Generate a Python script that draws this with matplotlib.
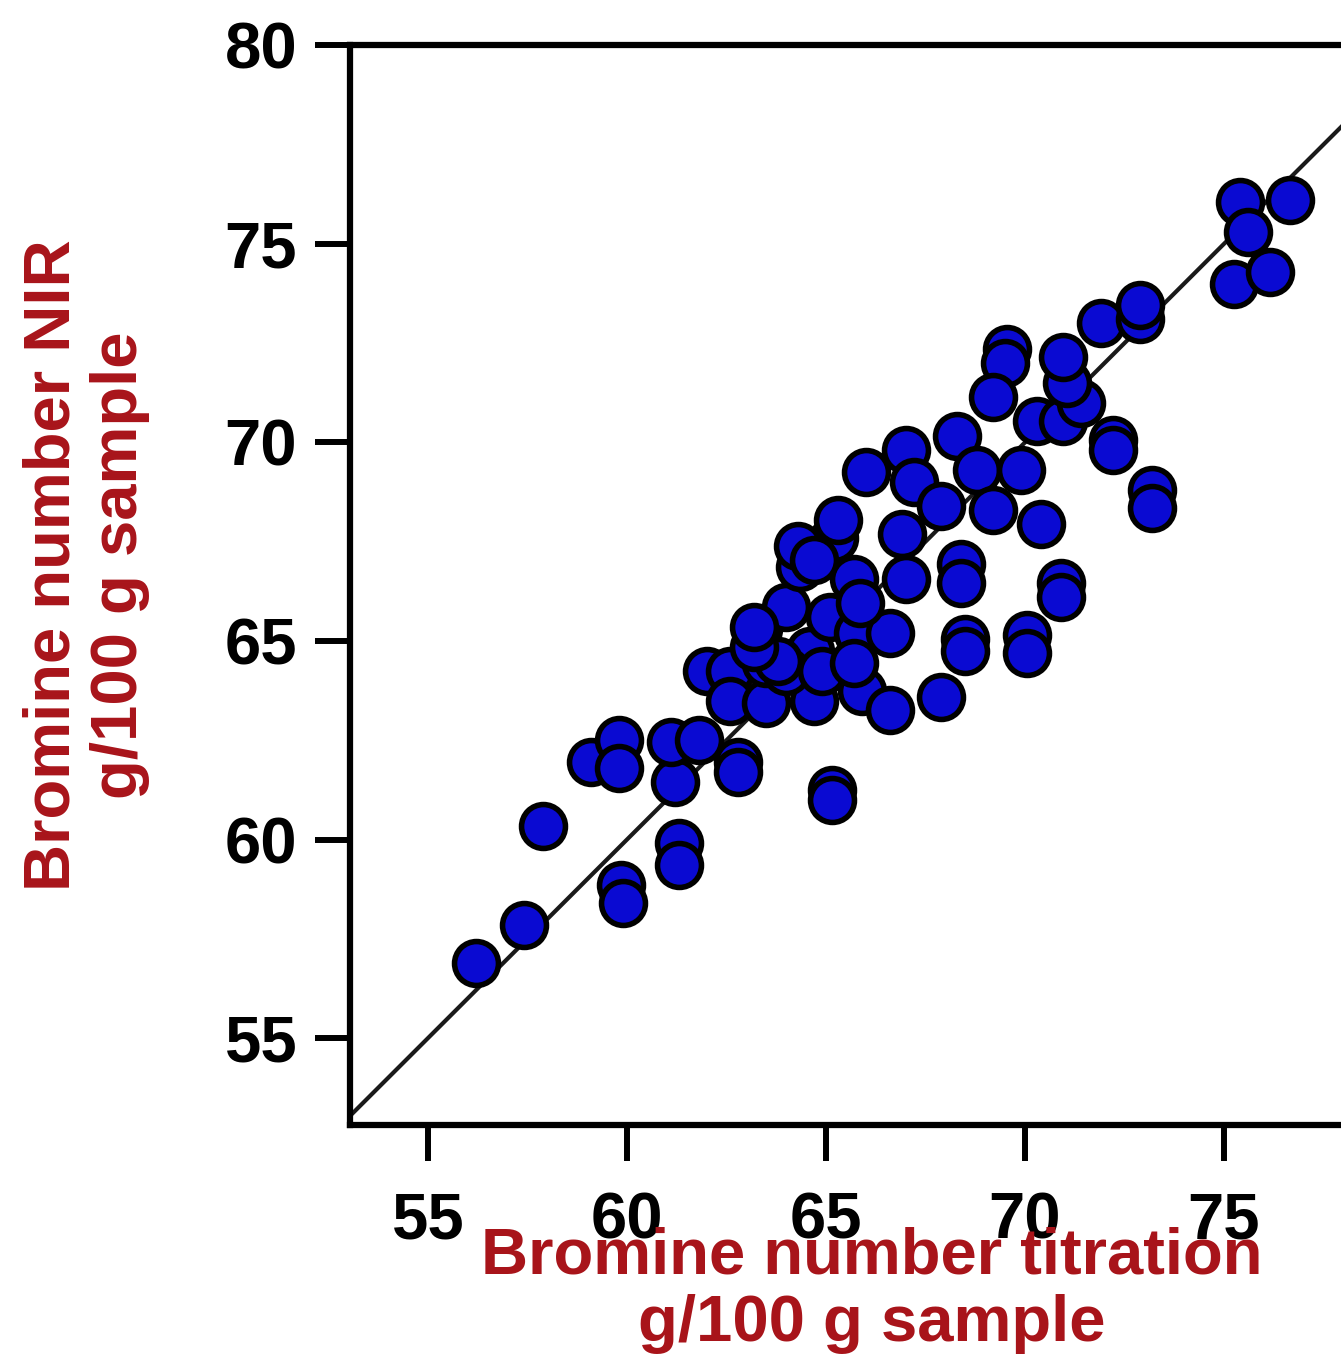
import matplotlib
matplotlib.use("Agg")
import matplotlib.pyplot as plt

# -----------------------------
# Data
# -----------------------------
titration = [
    56.2, 57.4, 57.9, 59.85, 59.9, 61.3, 61.3, 59.1, 59.8, 59.8,
    61.2, 61.1, 61.8, 62.8, 62.8, 65.15, 65.15, 62.0, 62.6, 62.6,
    63.5, 63.5, 63.3, 64.0, 64.6, 64.7, 65.1, 65.8, 66.6, 65.9,
    66.6, 65.2, 65.3, 64.35, 64.3, 65.7, 64.7, 67.9, 68.5, 68.5,
    70.05, 70.05, 68.4, 68.4, 70.9, 70.9, 67.0, 66.9, 66.0, 67.0,
    67.2, 68.3, 68.8, 69.9, 67.9, 69.2, 70.4, 70.3, 70.95, 71.4,
    71.05, 70.95, 69.55, 69.5, 69.2, 72.2, 72.2, 73.2, 73.2, 71.9,
    72.9, 72.9, 75.4, 76.65, 75.6, 75.25, 76.15, 64.0,
    65.85, 63.8, 64.9, 65.7, 63.2, 63.2,
]
nir = [
    56.9, 57.85, 60.35, 58.85, 58.4, 59.9, 59.35, 61.95, 62.5, 61.8,
    61.45, 62.45, 62.5, 61.95, 61.7, 61.25, 61.0, 64.25, 64.25, 63.5,
    63.45, 64.45, 65.3, 65.85, 64.75, 63.5, 65.6, 65.2, 65.2, 63.75,
    63.25, 67.6, 68.05, 66.85, 67.4, 66.55, 67.05, 63.6, 65.05, 64.75,
    65.15, 64.7, 66.95, 66.45, 66.45, 66.1, 66.55, 67.7, 69.25, 69.8,
    69.0, 70.15, 69.3, 69.3, 68.4, 68.3, 67.95, 70.55, 70.55, 71.0,
    71.5, 72.15, 72.35, 72.0, 71.15, 70.05, 69.8, 68.8, 68.35, 73.0,
    73.1, 73.45, 76.05, 76.1, 75.3, 74.0, 74.3, 64.25,
    65.95, 64.5, 64.25, 64.45, 64.85, 65.35,
]

x_ticks = [55, 60, 65, 70, 75]
y_ticks = [55, 60, 65, 70, 75, 80]

red = "#a8141a"
font = "Liberation Sans"

# -----------------------------
# Figure
# -----------------------------
fig = plt.figure(figsize=(13.41, 13.72), dpi=100)
ax = fig.add_axes([0.261, 0.180, 0.739, 0.787])

ax.plot([53, 80], [53, 80], color="#1a1a1a", lw=3, zorder=1)
ax.scatter(titration, nir, s=1000, facecolor="#0a0ad2",
           edgecolor="black", linewidth=4.0, zorder=3)

ax.set_xlim(53.04, 77.94)
ax.set_ylim(52.81, 80)
ax.set_xticks(x_ticks)
ax.set_yticks(y_ticks)

ax.spines["right"].set_visible(False)
for side in ["left", "bottom", "top"]:
    ax.spines[side].set_linewidth(4.5)
ax.spines["top"].set_zorder(5)

ax.tick_params(axis="y", direction="out", length=25, width=4.3, pad=13)
ax.tick_params(axis="x", direction="out", length=26, width=4.3, pad=22)
for lbl in ax.get_xticklabels() + ax.get_yticklabels():
    lbl.set_fontfamily(font)
    lbl.set_fontweight("bold")
    lbl.set_fontsize(47)

fig.text(872 / 1341, 1 - 1290 / 1372,
         "Bromine number titration\ng/100 g sample",
         ha="center", va="center", multialignment="center",
         color=red, fontsize=47, fontweight="bold", family=font,
         linespacing=1.15)
fig.text(86 / 1341, 1 - 565 / 1372,
         "Bromine number NIR\ng/100 g sample",
         ha="center", va="center", multialignment="center", rotation=90,
         color=red, fontsize=47, fontweight="bold", family=font,
         linespacing=1.15)

fig.savefig("out.png", dpi=100)
plt.close(fig)
